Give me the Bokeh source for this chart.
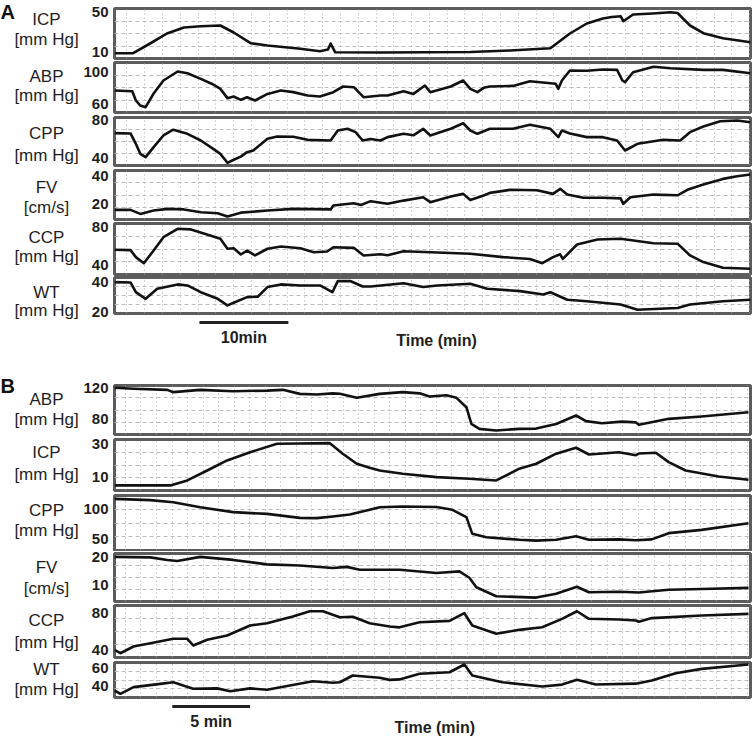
import numpy as np
from bokeh.plotting import figure
from bokeh.layouts import column, row
from bokeh.models import Range1d, FixedTicker
from bokeh.embed import file_html
from bokeh.resources import INLINE
from bokeh.core.properties import value

# ---------------- Panel A data (time in min) ----------------
a_icp_t = [0, 2.1, 4.0, 5.9, 7.8, 9.7, 11.9, 13.4, 15.3, 17.2, 20.9, 23.1, 24.0, 24.3, 24.8, 29.9, 35.0, 40.0, 44.5, 49.0,
           51.2, 53.1, 54.9, 55.9, 56.9, 57.2, 58.3, 60.5, 62.5, 63.3, 64.7, 66.2, 68.4, 71.5]
a_icp_v = [8.3, 8.3, 18, 28, 34, 35.3, 36, 29, 18.3, 16, 12.7, 10.3, 12, 18, 9.3, 9, 9.3, 9.5, 11, 13.3,
           28, 38, 43, 44.5, 45.3, 40.3, 47, 48, 49.3, 48.5, 36, 28.3, 23.3, 19.3]

a_abp_t = [0, 2.0, 2.4, 2.9, 3.5, 4.4, 5.5, 7.1, 8.2, 9.7, 11.1, 11.9, 12.7, 13.4, 14.2, 14.9, 15.8, 17.2, 18.7, 20.1,
           21.7, 23.1, 24.6, 25.7, 26.9, 28.0, 29.9, 30.7, 32.5, 33.6, 34.9, 35.5, 37.8, 39.2, 40.0, 40.8, 41.5, 42.2, 44.8, 46.7,
           49.6, 49.9, 50.3, 51.2, 53.1, 54.9, 56.5, 57.1, 57.4, 58.3, 60.6, 62.5, 66.2, 68.4, 71.5]
a_abp_v = [76.25, 75.4, 63.75, 57.5, 55.4, 72.5, 88.75, 100, 97.9, 90.8, 83.75, 78.3, 66.7, 68.75, 64.6, 67.9, 63.75, 72, 76.25, 74.2,
           70, 68.75, 74.2, 81.25, 80.4, 67.9, 70, 70, 75.4, 72, 82.5, 74.2, 81.25, 88.75, 78.3, 74.2, 79.6, 81.25, 82, 87.9,
           84.6, 78.3, 88.75, 101.25, 101, 102.5, 102, 88.75, 86.7, 99, 106, 104, 102, 102, 97.9]

a_cpp_t = [0, 1.8, 2.4, 2.9, 3.5, 4.4, 5.5, 6.6, 8.2, 9.7, 11.1, 11.9, 12.7, 13.4, 14.2, 14.9, 15.6, 17.2, 18.3, 20.1,
           21.7, 24.3, 25.1, 26.2, 27.1, 27.9, 28.8, 29.9, 30.7, 32.5, 33.6, 34.7, 35.5, 37.8, 39.2, 40.0, 40.8, 42.2, 44.8, 46.7,
           49.0, 49.9, 50.3, 51.2, 53.1, 54.9, 56.5, 57.4, 58.8, 61.7, 63.6, 64.7, 66.2, 68.1, 70.0, 71.5]
a_cpp_v = [66.3, 66, 54.8, 44, 40.4, 51.2, 63.8, 70, 65.6, 58.4, 49.4, 44, 34.3, 37.6, 41, 45.8, 47.6, 60.2, 62.7, 62.4,
           59.1, 58.4, 69.2, 71, 67.4, 58.4, 60, 58.4, 62, 65.6, 64, 71, 63.8, 71, 77, 69.2, 65.6, 71, 71, 75.4,
           71, 62, 69.2, 66, 62, 62, 58.4, 47.6, 54.8, 59.1, 58.4, 67.4, 73.5, 79.2, 80, 78]

a_fv_t = [0, 1.8, 2.9, 4.4, 6.0, 7.8, 9.7, 11.6, 12.7, 14.2, 17.2, 20.1, 24.3, 24.6, 26.9, 27.7, 28.8, 30.7, 32.5, 34.7,
          35.5, 37.8, 39.2, 40.0, 41.5, 42.2, 44.5, 47.5, 49.3, 50.1, 50.9, 52.7, 54.9, 56.9, 57.2, 58.0, 60.6, 63.3, 64.4, 66.2,
          68.4, 70.0, 71.5]
a_fv_v = [15.5, 15.5, 12.6, 15, 16.2, 15.8, 13.8, 13.1, 10.7, 13.5, 15, 16.2, 15.8, 18.6, 20.2, 19, 21.7, 19.8, 22.1, 24.5,
          21, 25, 26.9, 22.6, 25.7, 27.6, 29.8, 29.5, 26.9, 30.5, 26.5, 24.1, 24.1, 23.7, 19.8, 24.5, 26.4, 25.9, 29.8, 33.6,
          37.6, 39.5, 40.7]

a_ccp_t = [0, 1.8, 2.4, 3.3, 4.4, 5.5, 7.1, 8.5, 10.4, 11.9, 12.7, 13.4, 14.2, 14.9, 15.8, 17.2, 18.7, 20.9, 22.4, 23.9,
           24.6, 26.9, 28.0, 29.9, 30.7, 32.5, 36.3, 40.0, 43.7, 46.7, 48.1, 49.3, 50.1, 50.4, 52.0, 54.3, 56.9, 60.6, 63.3, 64.7,
           66.2, 68.4, 71.5]
a_ccp_v = [55.9, 55.5, 48, 41.4, 55.2, 69.5, 78.6, 78, 72.4, 67.8, 57, 57.5, 50.8, 55, 49.8, 57, 59.5, 57.5, 53.3, 54,
           58.7, 58, 49.8, 51, 50, 54.4, 53, 51.6, 48, 46, 41.4, 48, 51, 46, 61.6, 67, 67.8, 63, 62.5, 49.8,
           42.6, 36.5, 35.4]

a_wt_t = [0, 1.8, 2.4, 3.5, 4.8, 7.1, 8.2, 9.7, 11.6, 12.7, 13.4, 14.9, 16.1, 17.2, 18.7, 20.9, 23.1, 24.5, 25.1, 26.5,
          27.9, 28.8, 32.5, 34.7, 36.3, 40.0, 41.9, 45.6, 48.2, 49.0, 50.9, 53.1, 56.9, 58.8, 61.3, 63.3, 64.7, 68.4, 71.5]
a_wt_v = [40.2, 40, 33.5, 29.1, 35.8, 38.7, 38, 33.5, 29.1, 24.7, 26.5, 30.2, 30.5, 36.9, 38.7, 38, 38, 33.5, 40.9, 41,
          37.3, 37.3, 39.5, 37, 38, 39.1, 35.8, 34.2, 32, 33.5, 28.5, 27.5, 25.3, 21.8, 22.5, 23, 25.3, 27.5, 28.5]

# ---------------- Panel B data (time in min) ----------------
b_abp_t = [0, 1.22, 3.4, 3.78, 5.51, 7.63, 9.81, 10.83, 11.92, 13.01, 14.04, 14.49, 15.58, 17.05, 18.53, 19.62, 20.26, 21.35,
           21.99, 22.63, 22.95, 23.46, 24.55, 26.03, 27.12, 28.4, 29.68, 30.32, 31.35, 32.63, 33.53, 33.72, 35.64, 37.76, 40.77]
b_abp_v = [119.6, 118.5, 117, 114, 117, 115.2, 116, 117, 111.8, 111, 112.5, 112, 106.7, 111.8, 114, 112.5, 108.4, 110,
           106.7, 94.6, 73, 66.7, 64.5, 66.7, 67, 73, 83.9, 76.6, 74, 76, 75, 72, 79.6, 82.6, 88.1]

b_icp_t = [0, 3.59, 4.68, 5.96, 7.24, 8.72, 10.45, 11.92, 13.85, 14.68, 15.58, 16.41, 17.05, 18.53, 20.71, 22.82, 24.55,
           26.03, 27.12, 28.4, 29.68, 30.51, 32.44, 33.53, 33.72, 34.81, 35.64, 36.73, 38.85, 40.77]
b_icp_v = [5.2, 5.2, 8.2, 14.2, 20.3, 25.3, 30.4, 30.6, 30.8, 24.4, 18.3, 15.9, 14.2, 12.2, 10.2, 9.2, 8.2,
           15.3, 18.3, 24.4, 28, 23.9, 25.3, 23.5, 24.5, 25, 19.3, 14.2, 10.6, 8.6]

b_cpp_t = [0, 2.31, 3.78, 5.51, 7.63, 9.81, 11.92, 13.01, 14.04, 15.13, 16.41, 17.05, 18.53, 20.71, 21.73, 22.63, 23.01,
           23.91, 26.03, 27.12, 28.4, 29.68, 30.51, 32.44, 33.53, 34.55, 35.64, 37.76, 40.77]
b_cpp_v = [116, 114, 110.5, 102, 94, 91, 84.4, 84, 86.7, 90, 97.8, 102, 103.3, 102.5, 97.8, 85.6, 57.8,
           52.2, 47.8, 46.5, 47.8, 53.9, 47.8, 48.5, 47, 48.5, 58.9, 64.4, 75.5]

b_fv_t = [0, 2.31, 3.4, 4.04, 5.51, 7.63, 9.81, 11.92, 14.04, 14.94, 15.77, 18.33, 20.71, 22.18, 22.82, 23.27, 24.55,
          27.12, 28.4, 29.74, 30.51, 32.44, 33.72, 35.64, 37.76, 40.77]
b_fv_v = [20, 19.8, 18.9, 18.5, 20, 18.9, 17.3, 16.9, 16, 16.4, 15.4, 15.4, 14.2, 14.8, 12.5, 9.1, 5.9,
          5.4, 6.8, 9.3, 7.3, 7.5, 7.2, 8.2, 8.5, 8.9]

b_ccp_t = [0, 0.38, 1.22, 2.31, 3.78, 4.68, 5.06, 5.96, 7.24, 8.72, 9.81, 11.47, 12.56, 13.4, 14.49, 15.32, 16.41, 17.69,
           18.33, 19.62, 21.54, 22.5, 23.01, 24.55, 26.03, 27.5, 28.78, 29.74, 30.51, 32.44, 33.53, 33.72, 34.55, 37.76, 40.77]
b_ccp_v = [39.7, 36, 43.3, 46.8, 51.6, 51.6, 44.4, 50.5, 55.2, 66, 68.5, 75.7, 81.4, 81.4, 74.9, 75.5, 68.5, 64.9,
           64, 69.5, 71, 79.3, 66, 57, 61.3, 64.1, 73.2, 81.4, 73.2, 72.5, 71.4, 70, 74, 76.8, 78.6]

b_wt_t = [0, 0.38, 1.22, 2.95, 3.78, 5.06, 6.6, 7.44, 8.72, 9.81, 11.28, 12.76, 14.04, 14.49, 15.32, 17.05, 17.69, 18.33,
          19.62, 21.54, 22.5, 23.01, 24.94, 27.5, 28.78, 29.74, 30.96, 33.53, 34.55, 36.09, 37.76, 40.77]
b_wt_v = [35.8, 32.3, 39.3, 42.8, 44.5, 37.6, 38, 35, 38, 36.5, 41, 45.6, 44, 44.5, 51.6, 49.2, 47, 47.5,
          53.4, 55, 63.2, 51.6, 44.5, 40, 42, 47, 42.1, 43, 46.3, 54, 58.6, 63.2]

# channel names, units and the two labelled values of each strip
a_names = ["ICP", "ABP", "CPP", "FV", "CCP", "WT"]
b_names = ["ABP", "ICP", "CPP", "FV", "CCP", "WT"]
a_units = ["[mm Hg]", "[mm Hg]", "[mm Hg]", "[cm/s]", "[mm Hg]", "[mm Hg]"]
b_units = ["[mm Hg]", "[mm Hg]", "[mm Hg]", "[cm/s]", "[mm Hg]", "[mm Hg]"]
a_ticks = [[50, 10], [100, 60], [80, 40], [40, 20], [80, 40], [40, 20]]
b_ticks = [[120, 80], [30, 10], [100, 50], [20, 10], [80, 40], [60, 40]]
a_yranges = [(3, 53), (48.75, 111.25), (31.4, 83.2), (8.6, 43.6), (29.2, 84.3), (19.3, 43.3)]
b_yranges = [(59.4, 122.6), (2.1, 33), (30, 121.7), (4.0, 21.2), (31.4, 87.6), (28.4, 65.3)]

a_xrange = (0, 71.5)
b_xrange = (0, 40.9)
a_scale_bar = [9.55, 19.55]   # 10 min
b_scale_bar = [3.72, 8.72]    # 5 min

# ---------------- layout / style ----------------
TOTAL_W = 752
LW = 112                 # width of the left text column
SW = TOTAL_W - LW        # width of the trace figures
FONT = "Liberation Sans"
TXT = "#1e1e1e"

# (figure height, top border, bottom border, name offset, unit offset) for each strip
a_geom = [(60, 8, 2, 10.5, 31), (54, 2, 2, 14, 33), (53, 3, 2, 16, 38), (54, 3, 2, 17, 37), (55, 2, 2, 14, 33), (44, 1, 7, 15, 33)]
b_geom = [(66, 15, 2, 14, 34), (56, 3, 2, 13, 35), (59, 3, 1, 15, 35), (52, 2, 2, 14, 35), (56, 2, 2, 15, 37), (43, 3, 5, 7, 27)]


def strip_fig(t, v, yr, xr, xgrid, h, top, bottom):
    p = figure(width=SW, height=h, x_range=Range1d(*xr), y_range=Range1d(*yr),
               x_axis_location=None, y_axis_location=None, title_location=None,
               toolbar_location=None, output_backend="svg",
               min_border_left=2, min_border_right=2, min_border_top=top, min_border_bottom=bottom,
               background_fill_color="white", border_fill_color="white")
    p.xgrid.ticker = FixedTicker(ticks=list(xgrid))
    p.xgrid.grid_line_color = "#a8a8a8"
    p.xgrid.grid_line_dash = "1 3"
    p.xgrid.grid_line_width = 1
    q = [yr[0] + k * (yr[1] - yr[0]) / 4 for k in (1, 2, 3)]
    p.ygrid.ticker = FixedTicker(ticks=q)
    p.ygrid.grid_line_color = "#bcbcbc"
    p.ygrid.grid_line_dash = "4 3"
    p.ygrid.grid_line_width = 1
    p.outline_line_color = "#5c5c5c"
    p.outline_line_width = 3
    p.line(t, v, line_color="#111111", line_width=2.6, line_join="round")
    return p


def panel(series, names, units, ticks, yranges, geom, xr, xgrid, letter, letter_y):
    figs = []
    name_y, name_t, tick_y, tick_t = [], [], [], []
    y0 = 0
    for (t, v), nm, un, tk, yr, (h, top, bottom, n_off, u_off) in zip(series, names, units, ticks, yranges, geom):
        figs.append(strip_fig(t, v, yr, xr, xgrid, h, top, bottom))
        fh = h - top - bottom
        name_y += [y0 + top + n_off, y0 + top + u_off]
        name_t += [nm, un]
        for val in tk:
            # position of the labelled value on the strip's own linear scale
            tick_y.append(y0 + top + (yr[1] - val) / (yr[1] - yr[0]) * fh)
            tick_t.append(str(val))
        y0 += h
    H = y0
    left = figure(width=LW, height=H, x_range=Range1d(0, LW), y_range=Range1d(H, 0),
                  x_axis_location=None, y_axis_location=None, title_location=None,
                  toolbar_location=None, output_backend="svg",
                  min_border_left=0, min_border_right=0, min_border_top=0, min_border_bottom=0,
                  outline_line_color=None, background_fill_color="white", border_fill_color="white")
    left.grid.visible = False
    left.text(x=[46] * len(name_y), y=name_y, text=name_t, text_align="center", text_baseline="middle",
              text_font=value(FONT), text_font_size="17px", text_color=TXT)
    left.text(x=[108] * len(tick_y), y=tick_y, text=tick_t, text_align="right", text_baseline="middle",
              text_font=value(FONT), text_font_style="bold", text_font_size="15px", text_color=TXT)
    left.text(x=[0], y=[letter_y], text=[letter], text_align="left", text_baseline="top",
              text_font=value(FONT), text_font_style="bold", text_font_size="20px", text_color="#111111")
    return row(left, column(*figs, spacing=0), spacing=0)


def footer(xr, h, bar, bar_y, bar_text, bar_text_y, time_x, time_y):
    p = figure(width=TOTAL_W, height=h, x_range=Range1d(*xr), y_range=Range1d(h, 0),
               x_axis_location=None, y_axis_location=None, title_location=None,
               toolbar_location=None, output_backend="svg",
               min_border_left=LW + 2, min_border_right=2, min_border_top=0, min_border_bottom=0,
               outline_line_color=None, background_fill_color="white", border_fill_color="white")
    p.grid.visible = False
    p.line(x=bar, y=[bar_y, bar_y], line_color="#222222", line_width=3)
    p.text(x=[sum(bar) / 2, time_x], y=[bar_text_y, time_y], text=[bar_text, "Time (min)"],
           text_align="center", text_baseline="middle", text_font=value(FONT),
           text_font_style="bold", text_font_size="16px", text_color=TXT)
    return p


a_series = [(a_icp_t, a_icp_v), (a_abp_t, a_abp_v), (a_cpp_t, a_cpp_v), (a_fv_t, a_fv_v), (a_ccp_t, a_ccp_v), (a_wt_t, a_wt_v)]
b_series = [(b_abp_t, b_abp_v), (b_icp_t, b_icp_v), (b_cpp_t, b_cpp_v), (b_fv_t, b_fv_v), (b_ccp_t, b_ccp_v), (b_wt_t, b_wt_v)]

a_grid = np.arange(1.4, a_xrange[1], 2.0)
b_grid = np.arange(0.7, b_xrange[1], 1.0)

layout = column(
    panel(a_series, a_names, a_units, a_ticks, a_yranges, a_geom, a_xrange, a_grid, "A", 0),
    footer(a_xrange, 50, a_scale_bar, 2, "10min", 17, 36.2, 20),
    panel(b_series, b_names, b_units, b_ticks, b_yranges, b_geom, b_xrange, b_grid, "B", 4),
    footer(b_xrange, 34, b_scale_bar, 4, "5 min", 19, 20.6, 24.5),
    spacing=0,
)
open("out.html", "w").write(file_html(layout, INLINE))
